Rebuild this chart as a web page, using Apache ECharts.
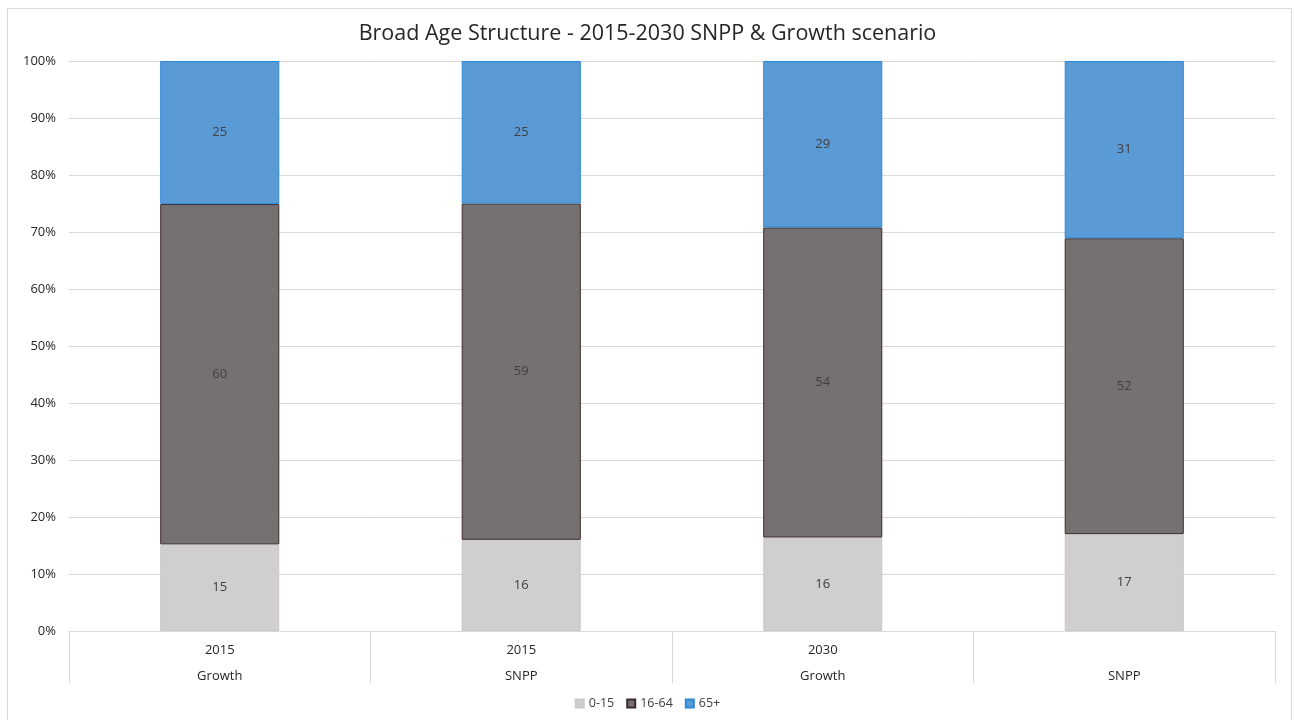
<!DOCTYPE html>
<html>
<head>
<meta charset="utf-8">
<script src="https://cdn.jsdelivr.net/npm/echarts@6/dist/echarts.min.js"></script>
<style>html,body{margin:0;padding:0;background:#fff;}#c{width:1295px;height:720px;}</style>
</head>
<body>
<div id="c"></div>
<script>
const years = ['2015', '2015', '2030', ''];
const scenarios = ['Growth', 'SNPP', 'Growth', 'SNPP'];
const seriesNames = ['0-15', '16-64', '65+'];
const age0_15 = [15.2, 16.0, 16.4, 17.0];
const age16_64 = [59.7, 59.0, 54.4, 51.9];
const age65plus = [25.1, 25.0, 29.2, 31.1];
const yTicks = [0, 10, 20, 30, 40, 50, 60, 70, 80, 90, 100];

const categories = years.map((y, i) => y + '\n' + scenarios[i]);
const FONT = 'Open Sans';
const chart = echarts.init(document.getElementById('c'));
const lbl = {show: true, position: 'inside', color: '#404040', fontSize: 13, fontFamily: FONT,
  formatter: p => Math.round(p.value)};
chart.setOption({
  animation: false,
  textStyle: {fontFamily: FONT},
  graphic: [{type: 'rect', shape: {x: 7.5, y: 8.5, width: 1284, height: 720}, style: {fill: 'none', stroke: '#d9d9d9', lineWidth: 1}, silent: true}],
  title: {text: 'Broad Age Structure - 2015-2030 SNPP & Growth scenario', left: 'center', top: 18,
    textStyle: {fontSize: 21.5, fontWeight: 'normal', color: '#262626', fontFamily: FONT}},
  legend: {bottom: 5, left: 'center', itemWidth: 8, itemHeight: 8, itemGap: 12, icon: 'rect',
    textStyle: {fontSize: 12.5, color: '#404040', fontFamily: FONT}, data: seriesNames},
  grid: {left: 69, right: 20, top: 61, bottom: 89, containLabel: false},
  xAxis: {type: 'category', data: categories, boundaryGap: true,
    axisLine: {show: true, lineStyle: {color: '#d9d9d9'}},
    axisTick: {show: true, interval: 0, length: 52, alignWithLabel: false, lineStyle: {color: '#d9d9d9'}},
    axisLabel: {interval: 0, margin: 6, lineHeight: 26, fontSize: 13, color: '#262626', fontFamily: FONT}},
  yAxis: {type: 'value', min: yTicks[0], max: yTicks[yTicks.length - 1], interval: 10,
    axisLine: {show: false}, axisTick: {show: false},
    splitLine: {lineStyle: {color: '#d9d9d9'}},
    axisLabel: {formatter: '{value}%', fontSize: 13, color: '#262626', margin: 13, fontFamily: FONT}},
  series: [
    {name: seriesNames[0], type: 'bar', stack: 'a', data: age0_15, barWidth: '39.5%',
      itemStyle: {color: '#d0cece', borderColor: '#c9c9c9', borderWidth: 1}, label: lbl},
    {name: seriesNames[1], type: 'bar', stack: 'a', data: age16_64,
      itemStyle: {color: '#767171', borderColor: '#3d2b2b', borderWidth: 1}, label: lbl},
    {name: seriesNames[2], type: 'bar', stack: 'a', data: age65plus,
      itemStyle: {color: '#5b9bd5', borderColor: '#2a88d8', borderWidth: 1}, label: lbl}
  ]
});
</script>
</body>
</html>
